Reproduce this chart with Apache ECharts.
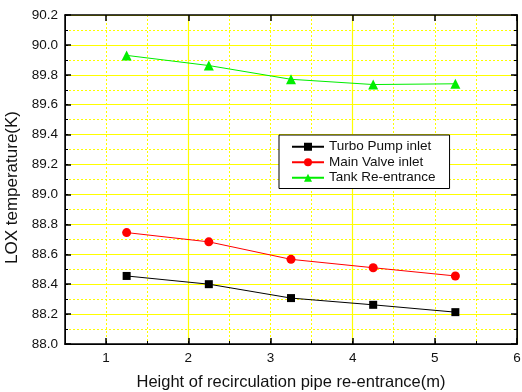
<!DOCTYPE html>
<html><head><meta charset="utf-8">
<script src="https://cdn.jsdelivr.net/npm/echarts@6/dist/echarts.min.js"></script>
<style>html,body{margin:0;padding:0;background:#fff}#c{width:522px;height:392px}</style>
</head><body><div id="c"></div>
<script>
const xValues = [1.25, 2.25, 3.25, 4.25, 5.25];
const turboPump = [88.455, 88.40, 88.307, 88.262, 88.213];
const mainValve = [88.745, 88.683, 88.566, 88.51, 88.455];
const tankReentrance = [89.93, 89.862, 89.77, 89.735, 89.74];
const seriesNames = ['Turbo Pump inlet', 'Main Valve inlet', 'Tank Re-entrance'];
const xTickLabels = [1, 2, 3, 4, 5, 6];
const xTitle = 'Height of recirculation pipe re-entrance(m)';
const yTitle = 'LOX temperature(K)';

const FONT = 'Liberation Sans, Arial, sans-serif';
const gridPos = {left: 65, right: 5, top: 15, bottom: 48, outerBoundsMode: 'none', containLabel: false};
const yellow = '#ffff00';
function pts(ys){ return xValues.map((x,i)=>[x, ys[i]]); }

const chart = echarts.init(document.getElementById('c'), null, {renderer:'canvas'});
chart.setOption({
  animation: false,
  backgroundColor: '#fff',
  textStyle: {fontFamily: FONT},
  grid: [Object.assign({show:false}, gridPos), Object.assign({show:false}, gridPos)],
  xAxis: [
    {gridIndex:0, type:'value', position:'bottom', min:0.5, max:6, interval:0.5,
     axisLine:{show:true, lineStyle:{color:'#000', width:1}},
     axisTick:{show:true, inside:true, length:3, lineStyle:{color:'#000'}},
     axisLabel:{show:false},
     splitLine:{show:true, lineStyle:{color:yellow, type:[2,2], width:1}}},
    {gridIndex:1, type:'value', position:'bottom', min:0.5, max:6, interval:0.5,
     axisLine:{show:true, lineStyle:{color:'#000', width:1.5}},
     axisTick:{show:true, inside:true, length:6, customValues: xTickLabels, lineStyle:{color:'#000', width:1.5}},
     axisLabel:{show:true, margin:7, color:'#111', fontSize:13.5, fontFamily:FONT, customValues: xTickLabels,
       formatter: v => (Math.abs(v - Math.round(v)) < 1e-6 ? String(Math.round(v)) : '')},
     splitLine:{show:true, lineStyle:{color:['rgba(0,0,0,0)', yellow], width:1.2}},
     name: xTitle, nameLocation:'middle', nameGap:30,
     nameTextStyle:{fontSize:16.5, color:'#111', fontFamily:FONT}},
    {gridIndex:1, type:'value', position:'top', min:0.5, max:6, interval:0.5,
     axisLine:{show:true, lineStyle:{color:'#000', width:1.5}},
     axisTick:{show:true, inside:true, length:6, customValues: xTickLabels, lineStyle:{color:'#000', width:1.5}},
     axisLabel:{show:false}, splitLine:{show:false}}
  ],
  yAxis: [
    {gridIndex:0, type:'value', position:'left', min:88, max:90.2, interval:0.1,
     axisLine:{show:true, lineStyle:{color:'#000'}},
     axisTick:{show:true, inside:true, length:3, lineStyle:{color:'#000'}},
     axisLabel:{show:false},
     splitLine:{show:true, lineStyle:{color:yellow, type:[2,2], width:1}}},
    {gridIndex:0, type:'value', position:'right', min:88, max:90.2, interval:0.1,
     axisLine:{show:true, lineStyle:{color:'#000'}},
     axisTick:{show:true, inside:true, length:3, lineStyle:{color:'#000'}},
     axisLabel:{show:false}, splitLine:{show:false}},
    {gridIndex:1, type:'value', position:'left', min:88, max:90.2, interval:0.2,
     axisLine:{show:true, lineStyle:{color:'#000', width:1.5}},
     axisTick:{show:true, inside:true, length:6, lineStyle:{color:'#000', width:1.5}},
     axisLabel:{show:true, margin:7, color:'#111', fontSize:13.5, fontFamily:FONT,
       formatter: v => v.toFixed(1)},
     splitLine:{show:true, lineStyle:{color:yellow, width:1.2}},
     name: yTitle, nameLocation:'middle', nameGap:40, nameRotate:90,
     nameTextStyle:{fontSize:17, color:'#111', fontFamily:FONT, padding:[0, 16, 0, 0]}},
    {gridIndex:1, type:'value', position:'right', min:88, max:90.2, interval:0.2,
     axisLine:{show:true, lineStyle:{color:'#000', width:1.5}},
     axisTick:{show:true, inside:true, length:6, lineStyle:{color:'#000', width:1.5}},
     axisLabel:{show:false}, splitLine:{show:false}}
  ],
  legend: {
    left: 279, top: 135, orient:'vertical',
    padding:[4, 14, 3, 12], itemGap: 0, itemWidth: 32, itemHeight: 10,
    backgroundColor:'#fff', borderColor:'#000', borderWidth:1,
    textStyle:{fontSize:13.5, color:'#111', fontFamily:FONT, lineHeight:15.5},
    data: seriesNames
  },
  series: [
    {name: seriesNames[0], type:'line', xAxisIndex:1, yAxisIndex:2, data: pts(turboPump),
     symbol:'rect', symbolSize:8, color:'#000', lineStyle:{width:1, color:'#000'}, z:5},
    {name: seriesNames[1], type:'line', xAxisIndex:1, yAxisIndex:2, data: pts(mainValve),
     symbol:'circle', symbolSize:9, color:'#ff0000', lineStyle:{width:1, color:'#ff0000'}, z:5},
    {name: seriesNames[2], type:'line', xAxisIndex:1, yAxisIndex:2, data: pts(tankReentrance),
     symbol:'triangle', symbolSize:10, color:'#00ee00', lineStyle:{width:1, color:'#00ee00'}, z:5}
  ]
});
</script></body></html>
